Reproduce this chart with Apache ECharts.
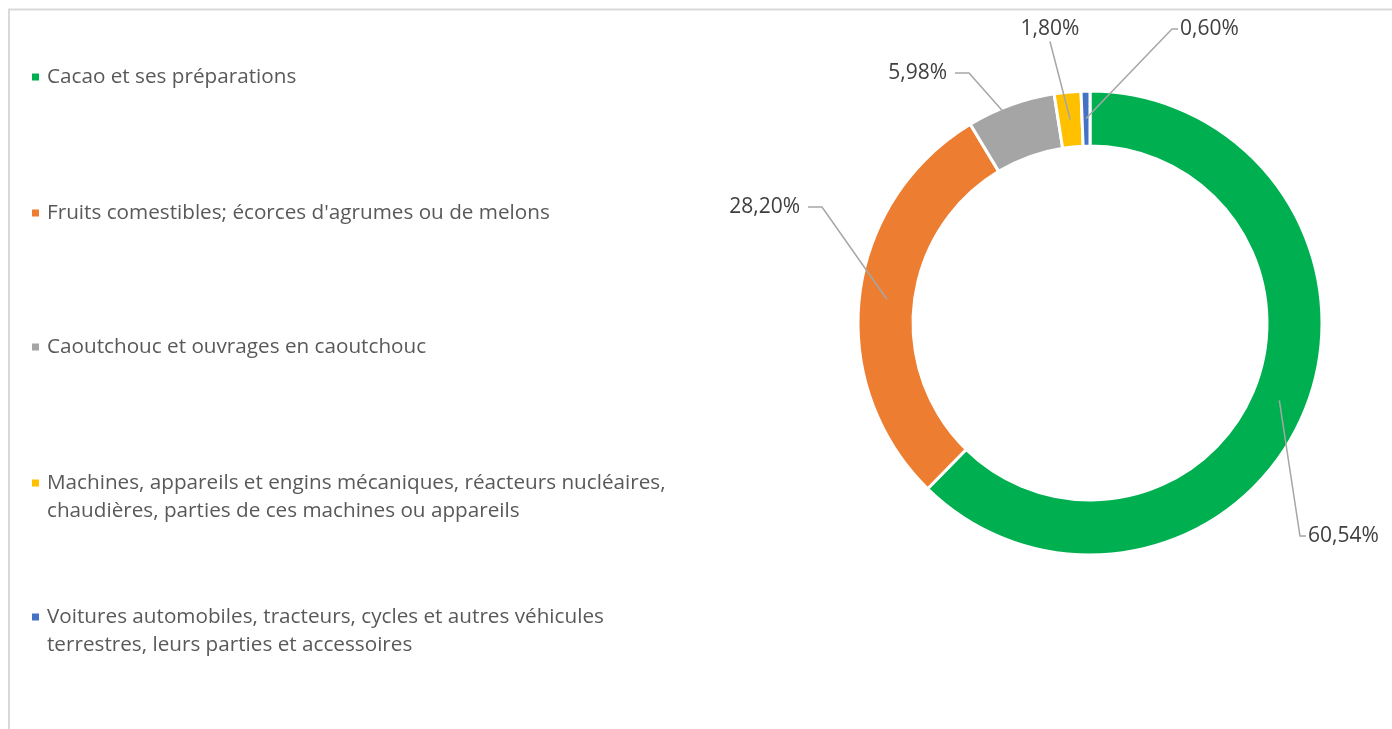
<!DOCTYPE html>
<html>
<head>
<meta charset="utf-8">
<script src="https://cdn.jsdelivr.net/npm/echarts@6/dist/echarts.min.js"></script>
<style>
html,body{margin:0;padding:0;background:#fff;}
#chart{width:1392px;height:729px;}
</style>
</head>
<body>
<div id="chart"></div>
<script>
// ---- data ----
var categories = [
  'Cacao et ses préparations',
  'Fruits comestibles; écorces d\'agrumes ou de melons',
  'Caoutchouc et ouvrages en caoutchouc',
  'Machines, appareils et engins mécaniques, réacteurs nucléaires,\nchaudières, parties de ces machines ou appareils',
  'Voitures automobiles, tracteurs, cycles et autres véhicules\nterrestres, leurs parties et accessoires'
];
var values = [60.54, 28.20, 5.98, 1.80, 0.60];
var colors = ['#00B050', '#ED7D31', '#A5A5A5', '#FFC000', '#4472C4'];

// ---- layout (styling only) ----
var center = [1090, 323];
var rInner = 177, rOuter = 232;
var legendTops = [63, 199, 333, 469, 603];
var twoLine = [false, false, false, true, true];
var labelPos = [
  {x: 1308, y: 536, align: 'left'},
  {x: 800, y: 207, align: 'right'},
  {x: 947, y: 73, align: 'right'},
  {x: 1050, y: 29, align: 'center'},
  {x: 1180, y: 29, align: 'left'}
];

var total = values.reduce(function(a, b){ return a + b; }, 0);
function midAngle(i){
  var cum = 0;
  for (var k = 0; k < i; k++) cum += values[k];
  return (cum + values[i] / 2) / total * Math.PI * 2;
}

var FONT = '"Open Sans", "Noto Sans", sans-serif';
// square icon at the top of a taller box, so it lines up with the first text line
var TOP_ICON = 'path://M0,0h1v1h-1zM0,4.111';

var legends = categories.map(function(name, i){
  return {
    data: [name],
    left: 30,
    top: legendTops[i],
    padding: 0,
    orient: 'vertical',
    icon: twoLine[i] ? TOP_ICON : 'rect',
    itemWidth: 9,
    itemHeight: twoLine[i] ? 37 : 9,
    selectedMode: false,
    textStyle: {
      fontFamily: FONT,
      fontSize: 20.7,
      color: '#595959',
      lineHeight: 28,
      padding: [0, 0, 0, 2]
    }
  };
});

var pieData = categories.map(function(n, i){
  return {name: n, value: values[i], itemStyle: {color: colors[i]}};
});

var chart = echarts.init(document.getElementById('chart'));
chart.setOption({
  animation: false,
  backgroundColor: '#fff',
  color: colors,
  graphic: [{
    type: 'rect',
    shape: {x: 9, y: 9.5, width: 1500, height: 800},
    style: {fill: 'none', stroke: '#d9d9d9', lineWidth: 2},
    silent: true
  }],
  legend: legends,
  series: [{
    type: 'pie',
    z: 2,
    center: center,
    radius: [rInner, rOuter],
    startAngle: 90,
    clockwise: true,
    itemStyle: {borderColor: '#fff', borderWidth: 3},
    label: {show: false},
    labelLine: {show: false},
    emphasis: {disabled: true},
    data: pieData
  }, {
    // transparent overlay carrying the labels so their leader lines sit above the ring
    type: 'pie',
    z: 5,
    center: center,
    radius: [rInner, rOuter],
    startAngle: 90,
    clockwise: true,
    silent: true,
    legendHoverLink: false,
    avoidLabelOverlap: false,
    itemStyle: {color: 'rgba(0,0,0,0)', borderWidth: 0},
    label: {
      show: true,
      position: 'outside',
      fontFamily: FONT,
      fontSize: 21,
      color: '#404040',
      formatter: function(p){ return p.value.toFixed(2).replace('.', ',') + '%'; }
    },
    labelLine: {
      show: true,
      length: 10,
      length2: 10,
      minTurnAngle: 0,
      maxSurfaceAngle: 180,
      lineStyle: {color: '#A6A6A6', width: 1.5}
    },
    labelLayout: function(p){
      var i = p.dataIndex;
      var lp = labelPos[i];
      var a = midAngle(i);
      var rm = (rInner + rOuter) / 2;
      var start = [center[0] + rm * Math.sin(a), center[1] - rm * Math.cos(a)];
      var h = p.labelRect.height;
      var pts;
      if (lp.align === 'left') {
        pts = [start, [lp.x - 8, lp.y], [lp.x - 2, lp.y]];
      } else if (lp.align === 'right') {
        pts = [start, [lp.x + 22, lp.y], [lp.x + 8, lp.y]];
      } else {
        pts = [start, [lp.x, lp.y + h / 2 + 2], [lp.x, lp.y + h / 2 + 2]];
      }
      return {
        x: lp.x,
        y: lp.y,
        align: lp.align,
        verticalAlign: 'middle',
        labelLinePoints: pts
      };
    },
    emphasis: {disabled: true},
    data: categories.map(function(n, i){ return {name: n, value: values[i]}; })
  }]
});
</script>
</body>
</html>
